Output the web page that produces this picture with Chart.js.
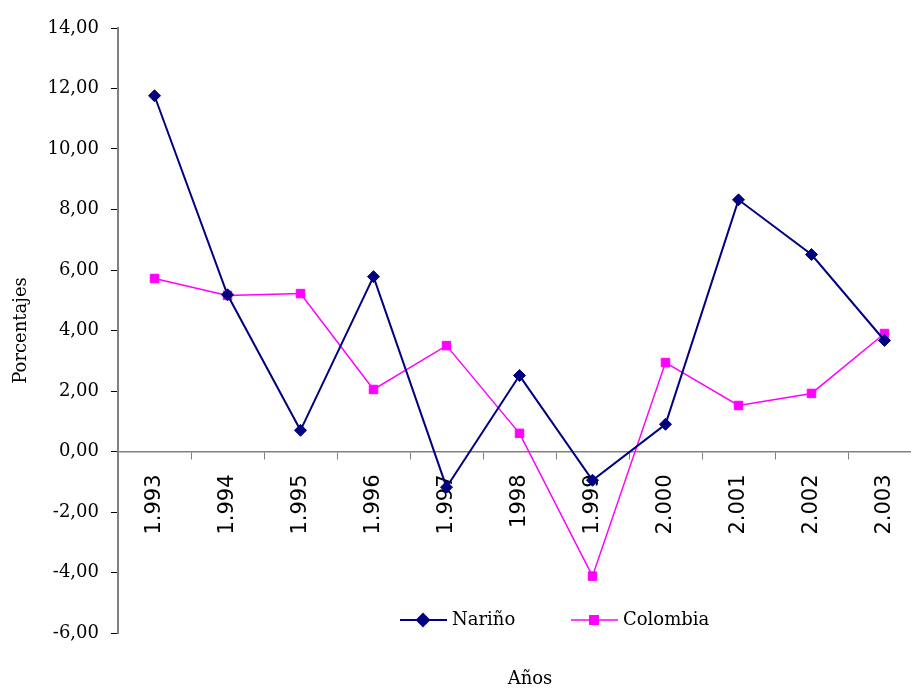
<!DOCTYPE html>
<html>
<head>
<meta charset="utf-8">
<script src="https://cdn.jsdelivr.net/npm/chart.js@4/dist/chart.umd.min.js"></script>
<style>
html,body{margin:0;padding:0;background:#fff;overflow:hidden;}
#wrap{position:relative;width:928px;height:688px;}
</style>
</head>
<body>
<div id="wrap"><canvas id="c" width="928" height="688"></canvas></div>
<script>
const categories = ["1.993","1.994","1.995","1.996","1.997","1998","1.999","2.000","2.001","2.002","2.003"];
const narino   = [11.76, 5.18, 0.70, 5.78, -1.18, 2.51, -0.95, 0.90, 8.32, 6.51, 3.67];
const colombia = [5.72, 5.16, 5.22, 2.05, 3.50, 0.60, -4.12, 2.94, 1.52, 1.92, 3.90];
const yTicks = [-6, -4, -2, 0, 2, 4, 6, 8, 10, 12, 14];

const FONT = "'DejaVu Serif', serif";
const XFONT = "'DejaVu Sans', sans-serif";

const customLegend = {
  id: 'customLegend',
  afterDraw(chart) {
    const ctx = chart.ctx;
    const area = chart.chartArea;
    ctx.save();
    ctx.font = "18px " + FONT;
    ctx.textBaseline = 'middle';
    ctx.fillStyle = '#000';
    let x = 400;
    const y = area.bottom - 13;
    chart.data.datasets.forEach((ds) => {
      ctx.strokeStyle = ds.borderColor;
      ctx.lineWidth = ds.borderWidth;
      ctx.beginPath();
      ctx.moveTo(x, y);
      ctx.lineTo(x + 47, y);
      ctx.stroke();
      ctx.fillStyle = ds.backgroundColor;
      Chart.helpers.drawPoint(ctx, {pointStyle: ds.pointStyle, radius: ds.pointRadius, borderWidth: 1}, x + 23, y);
      ctx.fillStyle = '#000';
      ctx.fillText(ds.label, x + 52, y);
      x += 171;
    });
    // x-axis title
    ctx.textAlign = 'center';
    ctx.textBaseline = 'middle';
    ctx.fillText('Años', 530, area.bottom + 46);
    ctx.restore();
  }
};

new Chart(document.getElementById('c'), {
  type: 'line',
  data: {
    labels: categories,
    datasets: [
      {label: 'Nariño', data: narino, borderColor: '#000080', backgroundColor: '#000080',
       borderWidth: 2, pointStyle: 'rectRot', pointRadius: 6, pointBorderWidth: 1, tension: 0},
      {label: 'Colombia', data: colombia, borderColor: '#FF00FF', backgroundColor: '#FF00FF',
       borderWidth: 1.5, pointStyle: 'rect', pointRadius: 6, pointBorderWidth: 1, tension: 0}
    ]
  },
  options: {
    responsive: false,
    animation: false,
    devicePixelRatio: 1,
    layout: {padding: {top: 28, bottom: 55, left: 0, right: 0}},
    plugins: {legend: {display: false}, tooltip: {enabled: false}},
    scales: {
      x: {
        position: {y: 0},
        offset: true,
        grid: {display: true, offset: true, drawOnChartArea: false, drawTicks: true, tickLength: 7, color: '#808080'},
        border: {display: true, color: '#808080', width: 1.5},
        ticks: {minRotation: 90, maxRotation: 90, autoSkip: false, color: '#000', padding: 16,
                font: {family: XFONT, size: 21}}
      },
      y: {
        min: -6, max: 14,
        afterFit(scale) { scale.width = 118; },
        afterBuildTicks(scale) { scale.ticks = yTicks.map(v => ({value: v})); },
        grid: {display: true, drawOnChartArea: false, drawTicks: true, tickLength: 7, color: '#000'},
        border: {display: true, color: '#808080', width: 2},
        ticks: {color: '#000', padding: 12, font: {family: FONT, size: 18},
                callback: (v) => Number(v).toFixed(2).replace('.', ',')},
        title: {display: true, text: 'Porcentajes', color: '#000', font: {family: FONT, size: 18}, padding: {top: 11}}
      }
    }
  },
  plugins: [customLegend]
});
</script>
</body>
</html>
